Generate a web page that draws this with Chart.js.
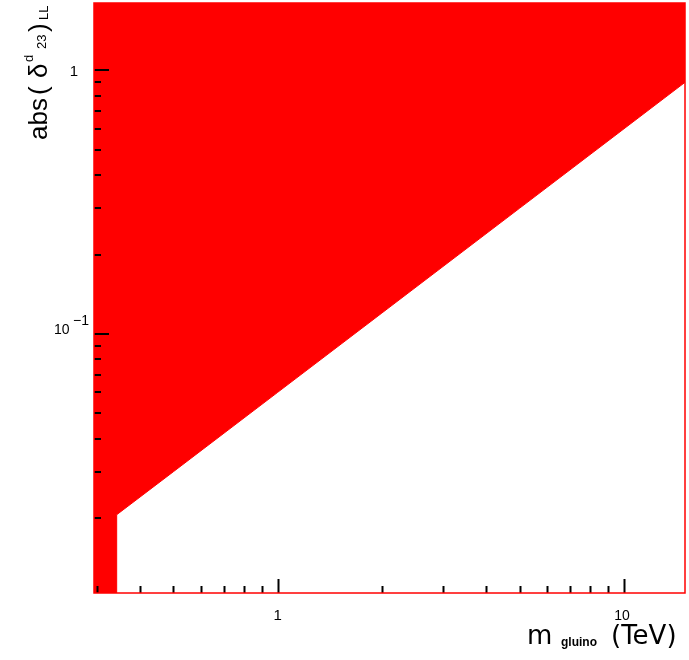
<!DOCTYPE html>
<html>
<head>
<meta charset="utf-8">
<script src="https://cdn.jsdelivr.net/npm/chart.js@4/dist/chart.umd.min.js"></script>
<style>
  html, body { margin: 0; padding: 0; background: #fff; }
  canvas { display: block; }
</style>
</head>
<body>
<canvas id="excl" width="689" height="660"></canvas>
<script>
"use strict";

// Axis ranges (log-log)
const massRange = [0.295, 15];       // m_gluino, TeV
const deltaRange = [0.0104, 1.8];    // abs(delta^d_23)_LL

// Lower edge of the excluded region: everything above it is filled
const boundaryMass = [0.295, 0.343, 0.343, 0.5, 1, 2, 5, 10, 15];
const boundaryDelta = [0.0104, 0.0104, 0.0206, 0.030, 0.060, 0.120, 0.300, 0.600, 0.900];

// Tick marks (decades get a label)
const massTicks = [0.3, 0.4, 0.5, 0.6, 0.7, 0.8, 0.9, 1, 2, 3, 4, 5, 6, 7, 8, 9, 10];
const deltaTicks = [0.02, 0.03, 0.04, 0.05, 0.06, 0.07, 0.08, 0.09, 0.1,
                    0.2, 0.3, 0.4, 0.5, 0.6, 0.7, 0.8, 0.9, 1];

const FONT = "'Liberation Sans', Arial, sans-serif";
const WIDE = "'DejaVu Sans', sans-serif";

function isDecade(v) {
  const l = Math.log10(v);
  return Math.abs(l - Math.round(l)) < 1e-9;
}

// ROOT-style frame: inward ticks, red box, hand-placed labels and titles
const frameAxes = {
  id: "frameAxes",
  afterDatasetsDraw(chart) {
    const { ctx, chartArea: a, scales: { x, y } } = chart;
    ctx.save();

    // tick marks
    ctx.strokeStyle = "#000";
    ctx.lineWidth = 2;
    ctx.beginPath();
    massTicks.forEach(v => {
      const px = Math.round(x.getPixelForValue(v)) + 0.5;
      const len = isDecade(v) ? 14 : 7;
      ctx.moveTo(px, a.bottom);
      ctx.lineTo(px, a.bottom - len);
    });
    deltaTicks.forEach(v => {
      const py = Math.round(y.getPixelForValue(v));
      const len = isDecade(v) ? 15 : 7;
      ctx.moveTo(a.left, py);
      ctx.lineTo(a.left + len, py);
    });
    ctx.stroke();

    // frame
    ctx.strokeStyle = "#ff0000";
    ctx.lineWidth = 1.5;
    ctx.strokeRect(a.left, a.top, a.right - a.left, a.bottom - a.top);

    // tick labels
    ctx.fillStyle = "#000";
    ctx.textBaseline = "alphabetic";
    ctx.textAlign = "center";
    ctx.font = "15px " + FONT;
    ctx.fillText("1", x.getPixelForValue(1), 620);
    ctx.font = "14px " + FONT;
    ctx.fillText("10", x.getPixelForValue(10) - 2, 620);

    const y1 = y.getPixelForValue(1);
    ctx.font = "15px " + FONT;
    ctx.fillText("1", 74, y1 + 6);
    const y01 = y.getPixelForValue(0.1);
    ctx.textAlign = "left";
    ctx.font = "14px " + FONT;
    ctx.fillText("10", 54, y01);
    ctx.font = "14px " + FONT;
    ctx.fillText("\u22121", 73, y01 - 9);

    // x title: m_gluino (TeV)
    ctx.font = "26px " + WIDE;
    ctx.fillText("m", 527, 644);
    ctx.font = "bold 12px " + FONT;
    ctx.fillText("gluino", 561, 646);
    ctx.font = "26px " + WIDE;
    ctx.fillText("(TeV)", 611, 644);

    // y title: abs(delta^d_23)_LL, reading upwards
    ctx.translate(47, 140);
    ctx.rotate(-Math.PI / 2);
    ctx.font = "26px " + FONT;
    ctx.fillText("abs", 0, 0);
    ctx.fillText("(", 45, 0);
    ctx.fillText("\u03b4", 62, 0);
    ctx.font = "13px " + FONT;
    ctx.fillText("d", 78, -14);
    ctx.fillText("23", 91, -1);
    ctx.font = "26px " + FONT;
    ctx.fillText(")", 108, 0);
    ctx.font = "13px " + FONT;
    ctx.fillText("LL", 120, 1);

    ctx.restore();
  }
};

new Chart(document.getElementById("excl"), {
  type: "line",
  data: {
    datasets: [{
      data: boundaryMass.map((m, i) => ({ x: m, y: boundaryDelta[i] })),
      fill: "end",
      backgroundColor: "#ff0000",
      borderColor: "#ff0000",
      borderWidth: 1,
      pointRadius: 0,
      tension: 0,
    }],
  },
  options: {
    responsive: false,
    animation: false,
    layout: { padding: { left: 94, right: 4, top: 3, bottom: 67 } },
    scales: {
      x: { type: "logarithmic", min: massRange[0], max: massRange[1], display: false },
      y: { type: "logarithmic", min: deltaRange[0], max: deltaRange[1], display: false },
    },
    plugins: { legend: { display: false }, tooltip: { enabled: false } },
  },
  plugins: [frameAxes],
});
</script>
</body>
</html>
